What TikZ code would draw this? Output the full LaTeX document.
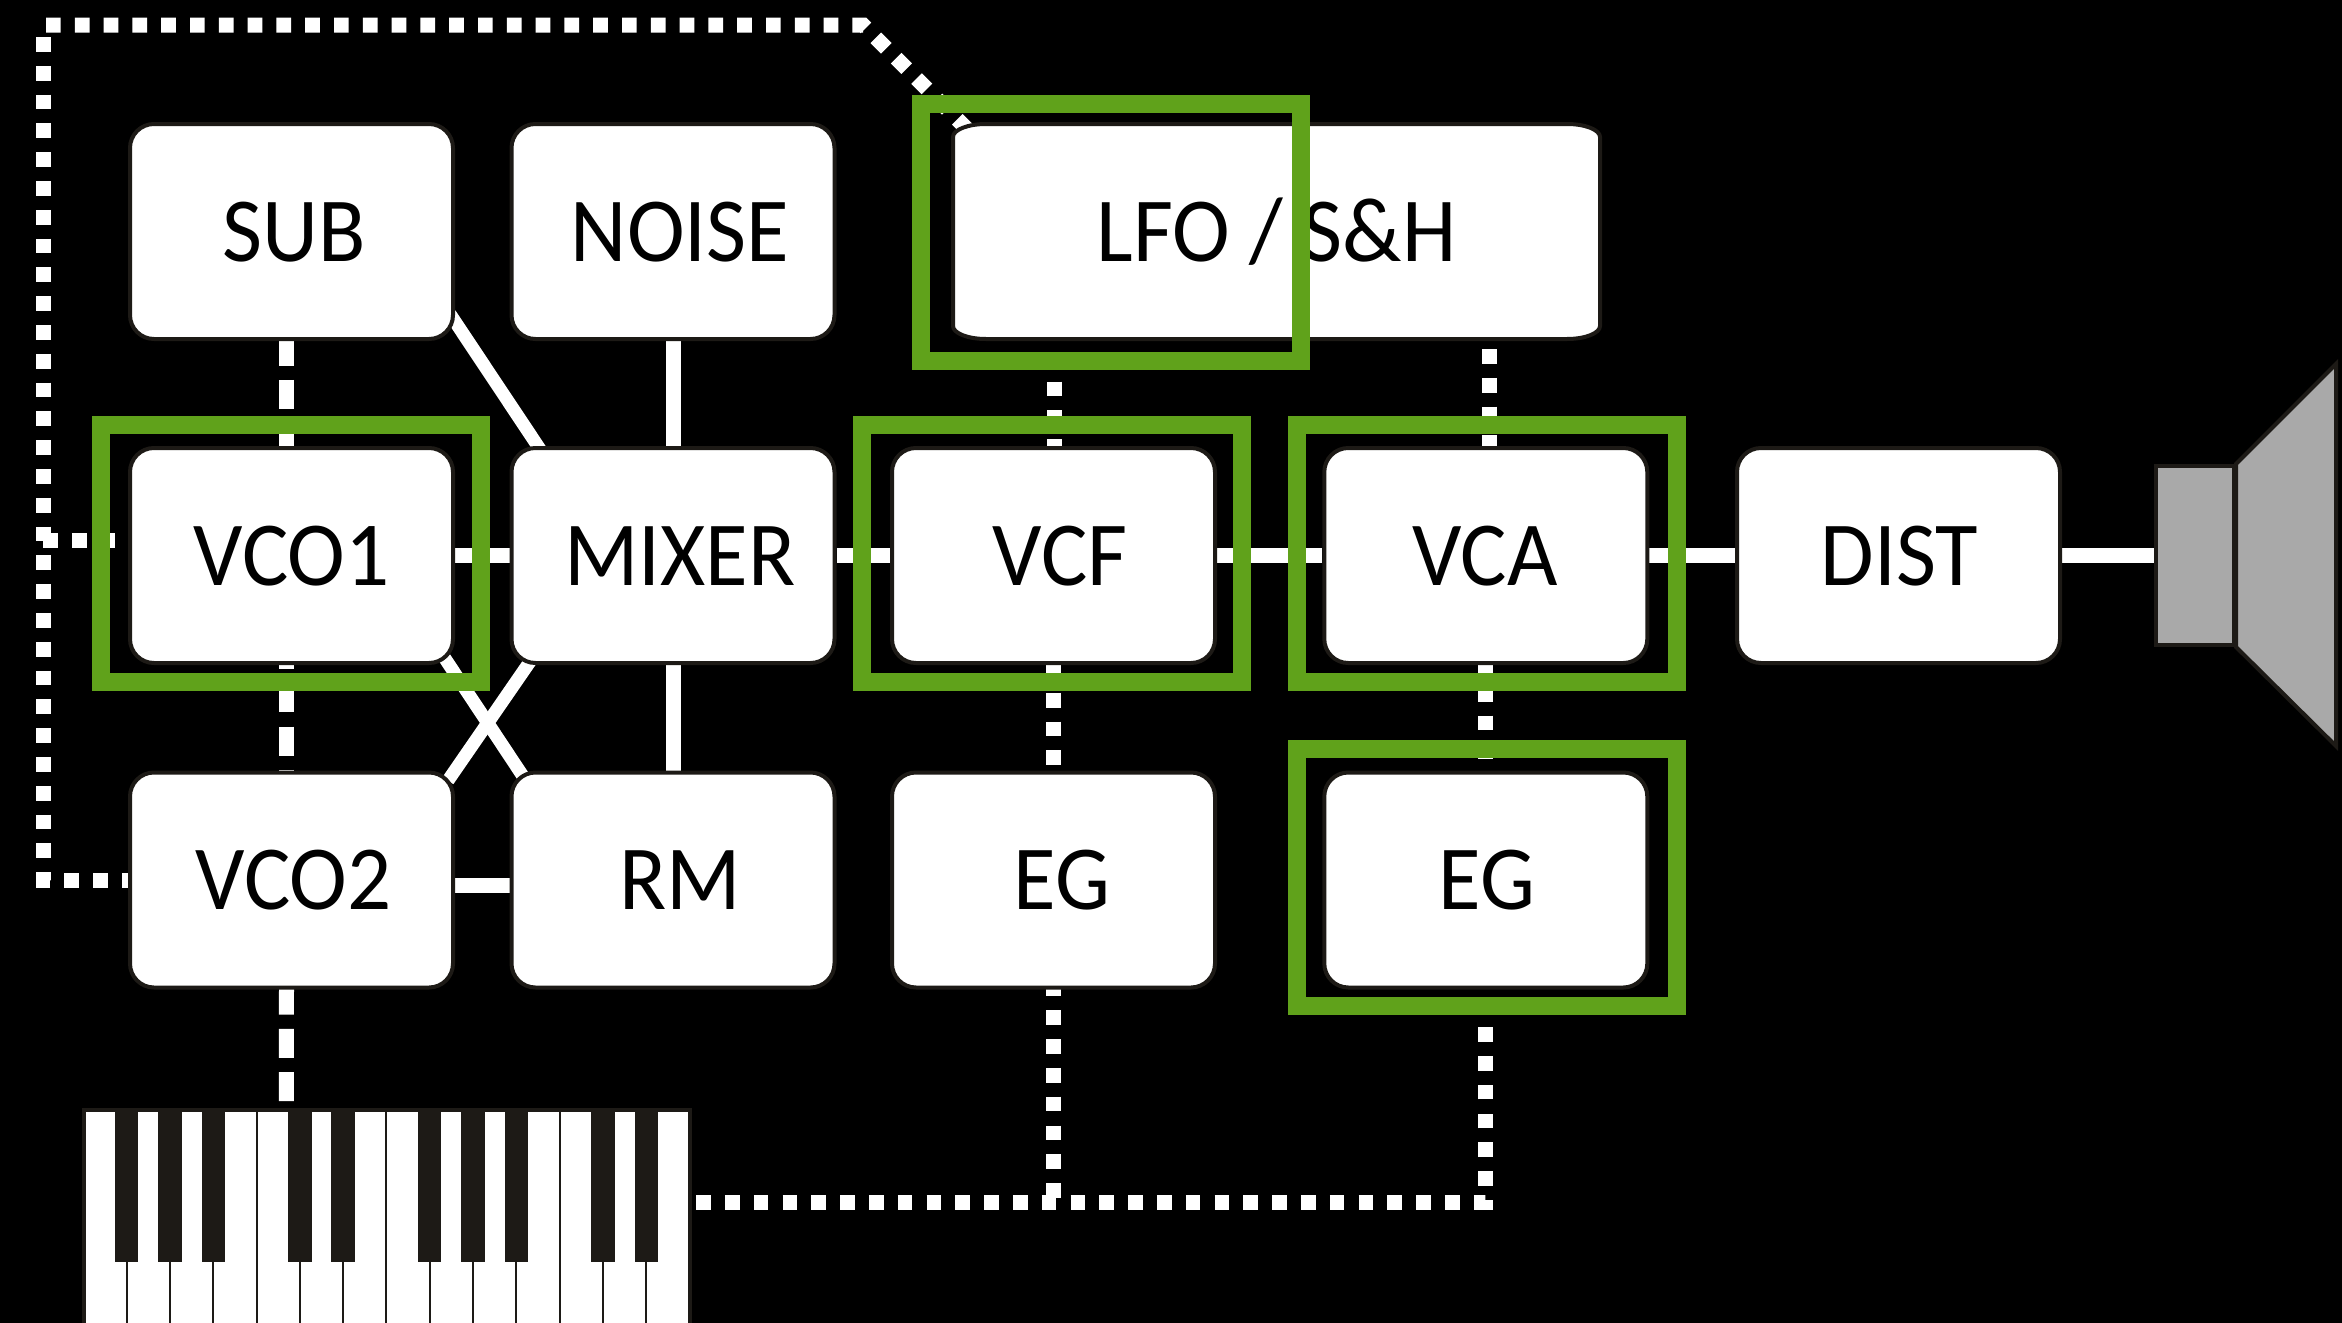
\documentclass[tikz,border=0pt]{standalone}
\usepackage{fontspec}
\setmainfont[FakeStretch=0.95]{Carlito}
\usepackage{xcolor}
\usetikzlibrary{backgrounds}
\definecolor{edgec}{HTML}{1D1A16}
\definecolor{framec}{HTML}{60A21B}
\definecolor{conec}{HTML}{A9A9A9}

\begin{document}
\begin{tikzpicture}[
  x=0.5pt,y=-0.5pt,
  every node/.style={font=\fontsize{45.8}{50}\selectfont},
  modv/.style={rectangle,draw=edgec,fill=white,line width=2pt,rounded corners=12pt,minimum width=161.5pt,minimum height=107.5pt,inner sep=0pt,text height=29.5pt,text depth=0pt},
  framev/.style={rectangle,draw=framec,line width=9pt,minimum width=190pt,minimum height=128.5pt,inner sep=0pt},
  speakerv/.style={draw=edgec,fill=conec,line width=2pt},
  audiol/.style={white,line width=7.5pt},
  slantl/.style={white,line width=6.5pt},
  gatel/.style={white,line width=7.5pt,dash pattern=on 14.5pt off 7.15pt},
  ctrll/.style={white,line width=7.5pt,dash pattern=on 7.35pt off 7.05pt}
]
  \useasboundingbox (0,0) rectangle (2342,1323);
  \foreach \n/\x/\y/\o/\t in {sub/291.5/231.5/2.5/SUB,noise/673/231.5/7/NOISE,
      vcoone/291.5/555.5/0/VCO1,mixer/673/555.5/7/MIXER,vcf/1053.5/555.5/6.5/VCF,
      vca/1485.8/555.5/-1/VCA,dist/1898.5/555.5/1/DIST,
      vcotwo/291.5/880/2/VCO2,rm/673/880/7/RM,egf/1053.5/880/8.5/EG,ega/1485.8/880/1/EG} {
    \node[modv] (\n) at (\x,\y) {\hspace*{\o pt}\t};
  }
  \draw[draw=edgec,fill=white,line width=2pt] (953,137) arc[start angle=180,end angle=270,x radius=33,y radius=13]
    -- (1567,124) arc[start angle=270,end angle=360,x radius=33,y radius=13]
    -- (1600,326) arc[start angle=0,end angle=90,x radius=33,y radius=13]
    -- (986,339) arc[start angle=90,end angle=180,x radius=33,y radius=13] -- cycle;
  \node[modv,draw=none,fill=none,minimum width=323.5pt] (lfo) at (1276.5,231.5) {LFO / S\&H};

  % keyboard
  \node[rectangle,draw=edgec,fill=white,line width=2pt,minimum width=303pt,minimum height=110pt,inner sep=0pt] (keys) at (386.85,1220) {};
  \foreach \k in {1,2,3,5,6,8,9,10,12,13} {
    \fill[edgec] ({83.3+43.3*\k-11.7},1108) rectangle ({83.3+43.3*\k+11.7},1261.6);
    \draw[edgec,line width=1pt] ({83.3+43.3*\k},1261) -- ({83.3+43.3*\k},1323);
  }
  \foreach \k in {4,7,11} {
    \draw[edgec,line width=1pt] ({83.3+43.3*\k},1110) -- ({83.3+43.3*\k},1323);
  }

  % speaker
  \node[speakerv,rectangle,minimum width=39pt,minimum height=89.5pt,inner sep=0pt] (magnet) at (2195,555.5) {};
  \draw[speakerv] (magnet.north east) -- (2336,364) -- (2336,746) -- (magnet.south east) -- cycle;

  % green frames
  \node[framev] (vcoframe) at (291,553.5) {};
  \node[framev] (vcfframe) at (1052,553.5) {};
  \node[framev] (vcaframe) at (1486.5,553.5) {};
  \node[framev] (egframe) at (1486.5,877.5) {};
  \node[framev] (lfoframe) at (1111,232.5) {};

  % connectors go behind, the boxes hide their ends
  \begin{scope}[on background layer]
    \fill[black] (0,0) rectangle (2342,1323);
    \coordinate (ltop) at (46,25);
    \coordinate (lbend) at (863,25);
    \coordinate (vtop) at (43.5,37);
    \coordinate (vtap) at (43,540);
    \draw[ctrll] (ltop) -- (lbend) -- ([shift={(22,13)}]lfo.north west);
    \draw[ctrll] (vtop) |- (vcotwo.west);
    \draw[ctrll] (vtap) -- (vtap -| vcoone.west);

    \draw[audiol] (noise) -- (mixer);
    \draw[audiol] (mixer) -- (rm);
    \draw[audiol] (vcoone) -- (mixer);
    \draw[audiol] (mixer) -- (vcf);
    \draw[audiol] (vcf) -- (vca);
    \draw[audiol] (vca) -- (dist);
    \draw[audiol] (dist) -- (magnet);
    \draw[audiol] ([yshift=-2.5pt]vcotwo.east) -- ([yshift=-2.5pt]rm.west);
    \draw[slantl] ([shift={(-5,-27)}]sub.south east) -- ([shift={(33,7)}]mixer.north west);
    \draw[slantl] ([shift={(-11,-8)}]vcoone.south east) -- ([shift={(17,11)}]rm.north west);
    \draw[slantl] ([shift={(24,-8.5)}]mixer.south west) -- ([shift={(-7,10)}]vcotwo.north east);

    \draw[gatel] ([shift={(-5,-4.5)}]sub.south) -- ([xshift=-2.5pt]vcoone.north);
    \draw[gatel] ([shift={(-5,-25)}]vcoone.south) -- ([xshift=-2.5pt]vcotwo.north);
    \draw[gatel] ([shift={(-5,-4)}]vcotwo.south) -- ([xshift=-50.2pt]keys.north);

    \draw[ctrll] ([shift={(-222.5,-17)}]lfo.south) -- ([xshift=0.25pt]vcf.north);
    \draw[ctrll] ([shift={(213,8)}]lfo.south) -- ([xshift=1.85pt]vca.north);
    \draw[ctrll] ([yshift=0.5pt]vcf.south) -- (egf.north);
    \draw[ctrll] ([yshift=3.5pt]vca.south) -- (ega.north);
    \draw[ctrll] ([shift={(0,-8)}]egf.south) -- (egf.south |- 0,1202);
    \draw[ctrll] ([shift={(4.3,-17.4)}]keys.east) -| (ega.south);
  \end{scope}
\end{tikzpicture}
\end{document}
